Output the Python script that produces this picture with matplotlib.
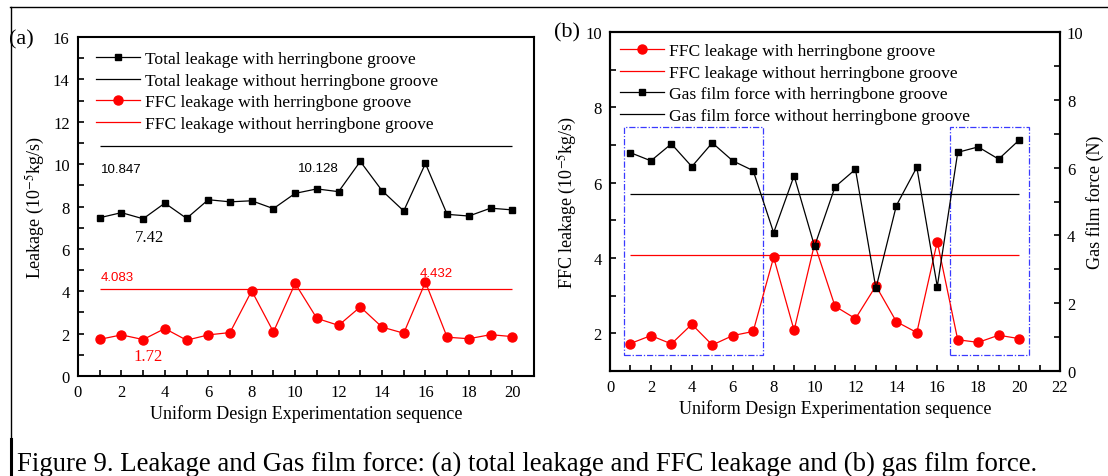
import numpy as np
import matplotlib
matplotlib.use('Agg')
import matplotlib.pyplot as plt
from matplotlib.lines import Line2D
from matplotlib.patches import Rectangle
from matplotlib.ticker import MultipleLocator

# Uniform design runs 1..20
seq = np.arange(1, 21)

# total leakage, 1e-5 kg/s
total_with = [7.47, 7.71, 7.42, 8.16, 7.44, 8.32, 8.22, 8.27, 7.90, 8.62,
              8.83, 8.70, 10.128, 8.75, 7.79, 10.03, 7.63, 7.55, 7.92, 7.84]
total_without = 10.847

# FFC leakage, 1e-5 kg/s
ffc_with = [1.73, 1.94, 1.72, 2.24, 1.69, 1.94, 2.05, 4.02, 2.08, 4.37,
            2.72, 2.39, 3.26, 2.31, 2.02, 4.432, 1.83, 1.76, 1.95, 1.86]
ffc_without = 4.083

# gas film force, N
force_with = [6.44, 6.20, 6.70, 6.03, 6.73, 6.20, 5.91, 4.08, 5.76, 3.68,
              5.43, 5.95, 2.44, 4.88, 6.01, 2.49, 6.45, 6.61, 6.25, 6.81]
force_without = 5.23

plt.rcParams['font.family'] = ['Liberation Serif', 'DejaVu Serif']
plt.rcParams['mathtext.fontset'] = 'stix'
plt.rcParams['axes.linewidth'] = 1.5

W, H = 1108, 477
fig = plt.figure(figsize=(W / 100, H / 100), dpi=100)

TICK_FS = 12
LABEL_FS = 13
LEG_FS = 12.6
sans = 'Liberation Sans'


def px_axes(left, top, right, bottom):
    return fig.add_axes([left / W, 1 - bottom / H, (right - left) / W, (bottom - top) / H])


def style_ticks(ax, right=False):
    ax.tick_params(which='both', direction='in', width=1.2, length=4,
                   labelsize=TICK_FS, top=False, right=right, pad=6)


def run_legend(ax, handles, labels, anchor):
    ax.legend(handles, labels, loc='upper left', bbox_to_anchor=anchor, frameon=False,
              fontsize=LEG_FS, handlelength=2.5, handletextpad=0.3, labelspacing=0.3,
              borderpad=0, borderaxespad=0)


# ---- (a) total and FFC leakage ----
ax_a = px_axes(78, 38, 534, 377)
ax_a.plot(seq, total_with, 's-', color='black', lw=0.9, ms=5)
ax_a.hlines(total_without, seq[0], seq[-1], color='black', lw=0.9)
ax_a.plot(seq, ffc_with, 'o-', color='red', lw=0.9, ms=6.5)
ax_a.hlines(ffc_without, seq[0], seq[-1], color='red', lw=0.9)

ax_a.set_xlim(0, 21)
ax_a.set_ylim(0, 16)
ax_a.xaxis.set_major_locator(MultipleLocator(2))
ax_a.xaxis.set_minor_locator(MultipleLocator(1))
ax_a.yaxis.set_major_locator(MultipleLocator(2))
ax_a.yaxis.set_minor_locator(MultipleLocator(1))
style_ticks(ax_a)
ax_a.set_xlabel('Uniform Design Experimentation sequence', fontsize=LABEL_FS, labelpad=3)
ax_a.set_ylabel('Leakage (10$^{-5}$kg/s)', fontsize=LABEL_FS, labelpad=4)

ax_a.text(1.98, 9.76, f'{total_without:.3f}', family=sans, fontsize=9.5, ha='center', va='center')
ax_a.text(11.06, 9.84, f'{total_with[12]:.3f}', family=sans, fontsize=9.5, ha='center', va='center')
ax_a.text(3.3, 6.54, f'{total_with[2]:.2f}', fontsize=12, ha='center', va='center')
ax_a.text(1.83, 4.65, f'{ffc_without:.3f}', family=sans, fontsize=9.5, color='red', ha='center', va='center')
ax_a.text(16.5, 4.88, f'{ffc_with[15]:.3f}', family=sans, fontsize=9.5, color='red', ha='center', va='center')
ax_a.text(3.23, 0.94, f'{ffc_with[2]:.2f}', fontsize=12, color='red', ha='center', va='center')

handles_a = [
    Line2D([], [], color='black', lw=0.9, marker='s', ms=5),
    Line2D([], [], color='black', lw=0.9),
    Line2D([], [], color='red', lw=0.9, marker='o', ms=6.5),
    Line2D([], [], color='red', lw=0.9),
]
labels_a = ['Total leakage with herringbone groove', 'Total leakage without herringbone groove',
            'FFC leakage with herringbone groove', 'FFC leakage without herringbone groove']
run_legend(ax_a, handles_a, labels_a, (0.04, 0.959))
fig.text(21 / W, 1 - 40 / H, '(a)', fontsize=16, ha='center', va='center')

# ---- (b) FFC leakage and gas film force ----
ax_b = px_axes(610, 33, 1060, 372)
ax_f = ax_b.twinx()

ax_b.plot(seq, ffc_with, 'o-', color='red', lw=0.9, ms=6.5)
ax_b.hlines(ffc_without, seq[0], seq[-1], color='red', lw=0.9)
ax_f.plot(seq, force_with, 's-', color='black', lw=0.9, ms=5)
ax_f.hlines(force_without, seq[0], seq[-1], color='black', lw=0.9)

# dash-dot frames round the high-force runs
for x0, x1 in [(0.68, 7.46), (16.6, 20.5)]:
    ax_b.add_patch(Rectangle((x0, 1.42), x1 - x0, 7.47 - 1.42, fill=False,
                             edgecolor='#3a3aff', lw=0.9, linestyle=(0, (5, 1.5, 1, 1.5))))

ax_b.set_xlim(0, 22)
ax_b.set_ylim(1, 10)
ax_f.set_ylim(0, 10)
ax_b.xaxis.set_major_locator(MultipleLocator(2))
ax_b.xaxis.set_minor_locator(MultipleLocator(1))
ax_b.yaxis.set_major_locator(MultipleLocator(2))
ax_b.yaxis.set_minor_locator(MultipleLocator(1))
ax_f.yaxis.set_major_locator(MultipleLocator(2))
ax_f.yaxis.set_minor_locator(MultipleLocator(1))
style_ticks(ax_b)
ax_f.tick_params(which='both', direction='in', width=1.2, length=4, labelsize=TICK_FS, pad=5)
ax_b.set_xlabel('Uniform Design Experimentation sequence', fontsize=LABEL_FS, labelpad=3)
ax_b.set_ylabel('FFC leakage (10$^{-5}$kg/s)', fontsize=LABEL_FS, labelpad=4)
ax_f.set_ylabel('Gas film force (N)', fontsize=LABEL_FS, labelpad=2)

handles_b = [
    Line2D([], [], color='red', lw=0.9, marker='o', ms=6.5),
    Line2D([], [], color='red', lw=0.9),
    Line2D([], [], color='black', lw=0.9, marker='s', ms=5),
    Line2D([], [], color='black', lw=0.9),
]
labels_b = ['FFC leakage with herringbone groove', 'FFC leakage without herringbone groove',
            'Gas film force with herringbone groove', 'Gas film force without herringbone groove']
run_legend(ax_f, handles_b, labels_b, (0.022, 0.9675))
fig.text(567 / W, 1 - 33 / H, '(b)', fontsize=16, ha='center', va='center')

# page frame and caption
fig.add_artist(Line2D([10 / W, 1], [1 - 8 / H, 1 - 8 / H], color='black', lw=1.0))
fig.add_artist(Line2D([11 / W, 11 / W], [1 - 8 / H, 1 - 440 / H], color='black', lw=1.0))
fig.add_artist(Line2D([11 / W, 11 / W], [1 - 440 / H, 0], color='black', lw=2.2))
fig.text(17 / W, 1 - 471 / H,
         'Figure 9. Leakage and Gas film force: (a) total leakage and FFC leakage and (b) gas film force.',
         fontsize=19.3, ha='left', va='baseline')

fig.savefig('out.png', dpi=100)
